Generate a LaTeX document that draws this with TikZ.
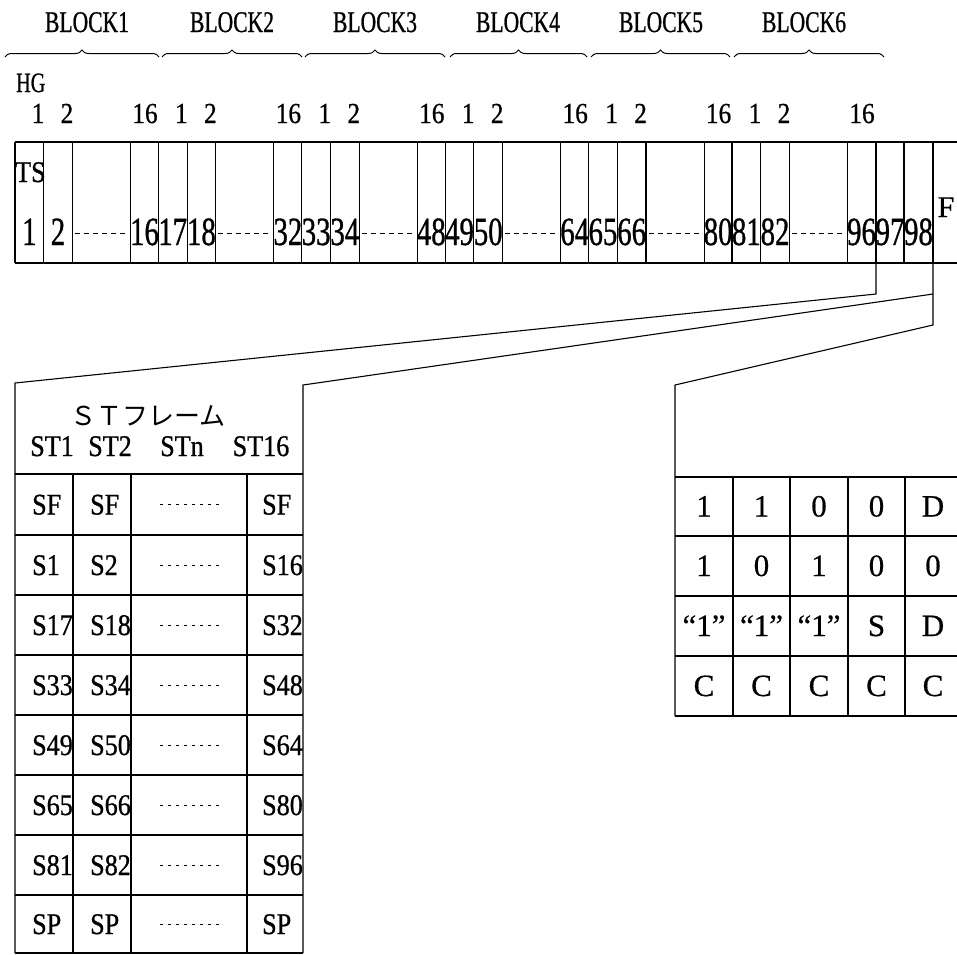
\documentclass[tikz,border=0pt]{standalone}
\usepackage{fontspec}
\setmainfont[FakeBold=0.6]{Liberation Serif}
\newfontfamily\fnR[FakeBold=0.6]{Liberation Serif}
\newfontfamily\fnA[FakeStretch=0.72,FakeBold=0.8]{Liberation Serif}
\newfontfamily\fnB[FakeStretch=0.87,FakeBold=0.8]{Liberation Serif}
\newfontfamily\fnJ{Noto Sans CJK JP}
\usetikzlibrary{decorations.pathreplacing}
\tikzset{
  ln/.style={line width=1.1pt},
  blk/.style={font=\fnA\fontsize{30}{30}\selectfont, anchor=base, inner sep=0pt},
  hnum/.style={font=\fnB\fontsize{29}{29}\selectfont, anchor=base, inner sep=0pt},
  fnum/.style={font=\fnA\fontsize{40}{40}\selectfont, anchor=base, inner sep=0pt},
  stt/.style={font=\fnB\fontsize{30}{30}\selectfont, anchor=base west, inner sep=0pt},
  sth/.style={font=\fnB\fontsize{30}{30}\selectfont, anchor=base, inner sep=0pt},
  rt/.style={font=\fnR\fontsize{31}{31}\selectfont, anchor=base, inner sep=0pt},
  dots/.style={line width=1pt, dash pattern=on 5pt off 4pt},
  sdots/.style={line width=1pt, dash pattern=on 3pt off 5pt},
  brc/.style={decorate, decoration={brace, amplitude=7pt}, line width=1pt},
}
\begin{document}
\begin{tikzpicture}[x=1pt, y=-1pt]
\useasboundingbox (0,0) rectangle (957,954);

% ---------- braces and block labels ----------
\draw[brc] (5,57) -- (159,57);
\draw[brc] (162,57) -- (302,57);
\draw[brc] (305,57) -- (445,57);
\draw[brc] (450,57) -- (587,57);
\draw[brc] (591,57) -- (730,57);
\draw[brc] (734,57) -- (884,57);
\node[blk] (b1) at (87,32) {BLOCK1};
\node[blk] (b2) at (232,32) {BLOCK2};
\node[blk] (b3) at (375,32) {BLOCK3};
\node[blk] (b4) at (518,32) {BLOCK4};
\node[blk] (b5) at (661,32) {BLOCK5};
\node[blk] (b6) at (804,32) {BLOCK6};

\node[font=\fnA\fontsize{28}{28}\selectfont, anchor=base west, inner sep=0pt] (hg) at (16,92) {HG};

% ---------- frame ----------
\draw[ln] (15,142) -- (957,142);
\draw[ln] (15,263) -- (957,263);
\foreach \k in {0,...,5}{
  \pgfmathsetmacro\x{15+143.4*\k}
  \pgfmathtruncatemacro\na{16*\k+1}
  \pgfmathtruncatemacro\nb{16*\k+2}
  \pgfmathtruncatemacro\nc{16*\k+16}
  \draw[ln] (\x,142) -- (\x,263);
  \draw[ln] (\x+28.7,142) -- (\x+28.7,263);
  \draw[ln] (\x+57.4,142) -- (\x+57.4,263);
  \draw[ln] (\x+115.5,142) -- (\x+115.5,263);
  \node[hnum] (h\k a) at (\x+23,123) {1};
  \node[hnum] (h\k b) at (\x+52,123) {2};
  \node[hnum] (h\k c) at (\x+130,123) {16};
  \node[fnum] (c\k a) at (\x+14.35,245) {\na};
  \node[fnum] (c\k b) at (\x+43.05,245) {\nb};
  \node[fnum] (c\k c) at (\x+129.5,245) {\nc};
  \draw[dots] (\x+60,233) -- (\x+113,233);
}
\draw[ln] (876,142) -- (876,263);
\draw[ln] (904,142) -- (904,263);
\draw[ln] (933,142) -- (933,263);
\node[fnum] (c97) at (890,245) {97};
\node[fnum] (c98) at (918.5,245) {98};
\node[font=\fnR\fontsize{30}{30}\selectfont, anchor=base, inner sep=0pt] (fF) at (946,217) {F};
\node[font=\fnB\fontsize{30}{30}\selectfont, anchor=base west, inner sep=0pt] (ts) at (15,182) {TS};

% ---------- connectors ----------
\coordinate (p1) at (876,263);
\coordinate (p1b) at (876,294);
\coordinate (stTL) at (15,383);
\coordinate (p2) at (933,294);
\coordinate (stTR) at (303,385);
\coordinate (p3) at (933,263);
\coordinate (p3b) at (933,325);
\coordinate (rtTL) at (675,385);
\coordinate (stBL) at (15,953);
\coordinate (stBR) at (303,953);
\coordinate (rtBL) at (675,716);
\draw[ln] (p1) -- (p1b) -- (stTL) -- (stBL);
\draw[ln] (p2) -- (stTR) -- (stBR);
\draw[ln] (p3) -- (p3b) -- (rtTL) -- (rtBL);

% ---------- ST frame ----------
\node[font=\fnJ\fontsize{26}{26}\selectfont, anchor=base, inner sep=0pt] (stf) at (148,425) {ＳＴフレーム};
\node[sth] (st1) at (52,456) {ST1};
\node[sth] (st2) at (110,456) {ST2};
\node[sth] (stn) at (182,456) {STn};
\node[sth] (st16) at (261,456) {ST16};
\foreach \y in {474,535,595,655,715,775,835,895,953}{
  \draw[ln] (15,\y) -- (303,\y);
}
\foreach \x in {73,131,247}{
  \draw[ln] (\x,474) -- (\x,953);
}
\foreach \a/\b/\c/\yc [count=\i] in {SF/SF/SF/504.5, S1/S2/S16/565, S17/S18/S32/625, S33/S34/S48/685, S49/S50/S64/745, S65/S66/S80/805, S81/S82/S96/865, SP/SP/SP/924}{
  \node[stt] (r\i a) at (32,\yc+10) {\a};
  \node[stt] (r\i b) at (90,\yc+10) {\b};
  \node[stt] (r\i c) at (262,\yc+10) {\c};
  \draw[sdots] (160,\yc) -- (222,\yc);
}

% ---------- right table ----------
\foreach \y in {477,536,596,656,716}{
  \draw[ln] (675,\y) -- (957,\y);
}
\foreach \x in {733,790,848,905}{
  \draw[ln] (\x,477) -- (\x,716);
}
\foreach \a/\b/\c/\d/\e/\yb [count=\i] in {1/1/0/0/D/516.5, 1/0/1/0/0/576, “1”/“1”/“1”/S/D/636, C/C/C/C/C/696}{
  \node[rt] (q\i a) at (704,\yb) {\a};
  \node[rt] (q\i b) at (761.5,\yb) {\b};
  \node[rt] (q\i c) at (819,\yb) {\c};
  \node[rt] (q\i d) at (876.5,\yb) {\d};
  \node[rt] (q\i e) at (933,\yb) {\e};
}
\end{tikzpicture}
\end{document}
